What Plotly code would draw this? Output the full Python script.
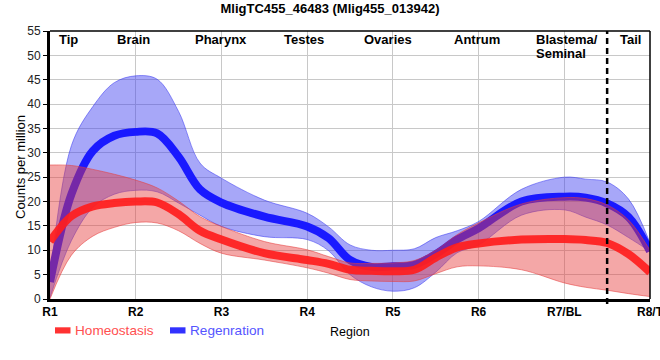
import plotly.graph_objects as go

# ---- data ----
region_ticks = ["R1", "R2", "R3", "R4", "R5", "R6", "R7/BL", "R8/T"]
tick_pos = [1, 2, 3, 4, 5, 6, 7, 8]
xs = [1, 1.25, 1.5, 1.75, 2, 2.25, 2.5, 2.75, 3, 3.5, 4, 4.25, 4.5, 4.75,
      5, 5.25, 5.5, 5.75, 6, 6.5, 7, 7.25, 7.5, 7.75, 8]

homeo_mean = [11.8, 17.0, 19.0, 19.7, 20.0, 19.8, 17.4, 14.0, 12.2, 9.4, 8.0, 7.2, 6.0, 5.8,
              5.7, 6.0, 8.5, 10.6, 11.4, 12.2, 12.3, 12.1, 11.5, 9.2, 5.5]
homeo_upper = [27.5, 27.4, 26.6, 25.6, 24.4, 22.8, 20.1, 16.9, 14.9, 11.8, 10.1, 8.7, 7.4, 7.3,
               7.4, 7.9, 10.0, 13.2, 15.6, 19.5, 20.8, 20.6, 19.3, 16.2, 10.0]
homeo_lower = [0.0, 9.0, 12.9, 14.7, 15.7, 15.6, 14.0, 11.4, 9.4, 8.0, 6.4, 5.3, 4.0, 3.7,
               3.6, 3.7, 5.2, 6.6, 6.8, 6.0, 3.3, 2.4, 1.8, 1.1, 0.5]

regen_mean = [3.5, 21.5, 30.4, 33.5, 34.3, 34.0, 29.2, 22.5, 19.8, 16.9, 14.9, 12.5, 8.0, 6.6,
              6.7, 7.0, 9.2, 12.2, 14.5, 20.0, 21.0, 20.8, 19.6, 16.8, 9.8]
regen_upper = [4.0, 31.5, 39.5, 44.4, 45.8, 45.1, 38.5, 27.9, 24.8, 20.3, 17.6, 14.8, 11.1, 10.0,
               10.0, 10.3, 12.6, 14.0, 15.9, 22.5, 25.0, 24.6, 24.0, 20.5, 11.5]
regen_lower = [0.3, 12.0, 18.8, 21.5, 22.3, 22.0, 19.7, 17.2, 14.9, 12.8, 12.2, 9.9, 5.0, 2.5,
               1.6, 2.3, 5.5, 9.5, 11.1, 17.2, 18.3, 16.8, 15.2, 12.6, 9.8]

region_names = ["Tip", "Brain", "Pharynx", "Testes", "Ovaries", "Antrum", "Tail"]
region_name_pos = [1.22, 1.97, 2.99, 3.96, 4.94, 5.98, 7.77]

FONT = "Liberation Sans, Arial, sans-serif"
RED_FILL = "rgba(230,60,60,0.45)"
BLUE_FILL = "rgba(60,60,240,0.45)"

fig = go.Figure()

# Regeneration band + line (drawn first, under Homeostasis)
fig.add_trace(go.Scatter(x=xs, y=regen_upper, mode="lines", line=dict(color="rgba(60,60,240,0.55)", width=1, shape="spline"),
                         showlegend=False, hoverinfo="skip"))
fig.add_trace(go.Scatter(x=xs, y=regen_lower, mode="lines", line=dict(color="rgba(60,60,240,0.55)", width=1, shape="spline"),
                         fill="tonexty", fillcolor=BLUE_FILL, showlegend=False, hoverinfo="skip"))
fig.add_trace(go.Scatter(x=xs, y=regen_mean, mode="lines", line=dict(color="rgb(25,25,255)", width=8, shape="spline"),
                         name="Regenration", showlegend=False))

# Homeostasis band + line
fig.add_trace(go.Scatter(x=xs, y=homeo_upper, mode="lines", line=dict(color="rgba(230,60,60,0.55)", width=1, shape="spline"),
                         showlegend=False, hoverinfo="skip"))
fig.add_trace(go.Scatter(x=xs, y=homeo_lower, mode="lines", line=dict(color="rgba(230,60,60,0.55)", width=1, shape="spline"),
                         fill="tonexty", fillcolor=RED_FILL, showlegend=False, hoverinfo="skip"))
fig.add_trace(go.Scatter(x=xs, y=homeo_mean, mode="lines", line=dict(color="rgb(255,30,30)", width=8, shape="spline"),
                         opacity=0.92, name="Homeostasis", showlegend=False))

T, B = 31, 61
PH = 360 - T - B


def py(pix):
    return (360 - B - pix) / PH


annotations = []
for name, xp in zip(region_names, region_name_pos):
    annotations.append(dict(x=xp, y=py(39.5), xref="x", yref="paper", text=name, showarrow=False,
                            font=dict(family=FONT, size=13, color="black", weight="bold"),
                            xanchor="center", yanchor="middle"))
for txt, ypix in [("Blastema/", 39.5), ("Seminal", 54)]:
    annotations.append(dict(x=(534 - 50) / 600, y=py(ypix), xref="paper", yref="paper", text=txt, showarrow=False,
                            font=dict(family=FONT, size=13, color="black", weight="bold"),
                            xanchor="left", yanchor="middle"))
# y axis title
annotations.append(dict(x=(20 - 50) / 600, y=py(167), xref="paper", yref="paper", text="Counts per million",
                        textangle=-90, showarrow=False, font=dict(family=FONT, size=13, color="black"),
                        xanchor="center", yanchor="middle"))
# x axis title
annotations.append(dict(x=0.5, y=py(331.5), xref="paper", yref="paper", text="Region", showarrow=False,
                        font=dict(family=FONT, size=12.5, color="black"), xanchor="center", yanchor="middle"))
# legend texts
annotations.append(dict(x=(73 - 50) / 600, y=py(330.5), xref="paper", yref="paper", text="Homeostasis", showarrow=False,
                        font=dict(family=FONT, size=13.6, color="rgb(255,80,80)"), xanchor="left", yanchor="middle"))
annotations.append(dict(x=(188 - 50) / 600, y=py(330.5), xref="paper", yref="paper", text="Regenration", showarrow=False,
                        font=dict(family=FONT, size=13.6, color="rgb(85,85,255)"), xanchor="left", yanchor="middle"))

shapes = [
    # dashed separator
    dict(type="line", xref="x", yref="paper", x0=7.5, x1=7.5, y0=py(304), y1=1,
         line=dict(color="black", width=2.5, dash="6px,4px")),
    # top and right borders
    dict(type="line", xref="paper", yref="paper", x0=0, x1=1, y0=1, y1=1, line=dict(color="black", width=1.5)),
    dict(type="line", xref="paper", yref="paper", x0=1, x1=1, y0=0, y1=1, line=dict(color="black", width=1.5)),
    # legend swatches
    dict(type="rect", xref="paper", yref="paper", x0=(55 - 50) / 600, x1=(70.5 - 50) / 600,
         y0=py(333.5), y1=py(327.3), fillcolor="rgb(255,50,50)", line=dict(width=0)),
    dict(type="rect", xref="paper", yref="paper", x0=(170 - 50) / 600, x1=(185.5 - 50) / 600,
         y0=py(333.5), y1=py(327.3), fillcolor="rgb(50,50,255)", line=dict(width=0)),
]

fig.update_layout(
    width=660, height=360,
    margin=dict(l=50, r=10, t=T, b=B, autoexpand=False),
    paper_bgcolor="white", plot_bgcolor="white",
    title=dict(text="MligTC455_46483 (Mlig455_013942)", x=0.5, xref="container", y=1 - 8.5 / 360, yref="container",
               xanchor="center", yanchor="middle", font=dict(family=FONT, size=13, color="black", weight="bold")),
    xaxis=dict(range=[1, 8], tickvals=tick_pos, ticktext=region_ticks, showgrid=True, gridcolor="#c8c8c8",
               gridwidth=1, zeroline=False, showline=True, linecolor="black", linewidth=3, ticks="",
               ticklabeloverflow="allow", automargin=False,
               tickfont=dict(family=FONT, size=12, color="black", weight="bold")),
    yaxis=dict(range=[0, 55], dtick=5, showgrid=True, gridcolor="#c8c8c8", gridwidth=1, zeroline=False,
               showline=True, linecolor="black", linewidth=3, ticks="outside", ticklen=4, tickcolor="black",
               automargin=False,
               tickfont=dict(family=FONT, size=12, color="#222")),
    annotations=annotations,
    shapes=shapes,
    showlegend=False,
)

fig.write_html("out.html", config={"displayModeBar": False},
               post_script="document.body.style.margin='0';document.body.style.overflow='hidden';")
